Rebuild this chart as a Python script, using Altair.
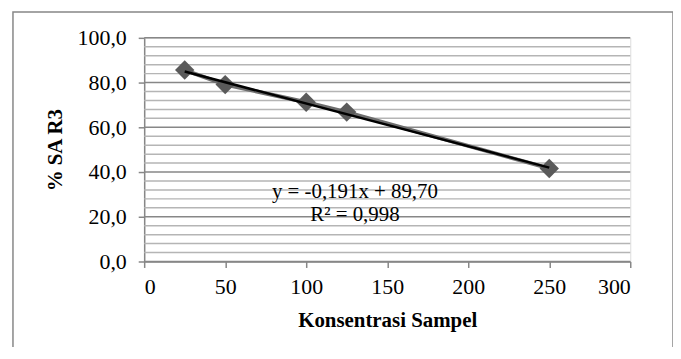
import altair as alt
import pandas as pd

konsentrasi = [25, 50, 100, 125, 250]
sa_r3 = [85.6, 79.1, 71.2, 66.8, 41.6]
slope = -0.191
intercept = 89.70
trend_x = [25, 250]
minor_grid = [4, 8, 12, 16, 24, 28, 32, 36, 44, 48, 52, 56, 64, 68, 72, 76, 84, 88, 92, 96]
major_grid = [0, 20, 40, 60, 80, 100]
eq_lines = ["y = -0,191x + 89,70", "R² = 0,998"]

FONT = "Liberation Serif"
W, H = 489, 225

df = pd.DataFrame({"x": konsentrasi, "y": sa_r3})
trend = pd.DataFrame({"x": trend_x, "y": [slope * v + intercept for v in trend_x]})
minor = pd.DataFrame({"g": minor_grid})
major = pd.DataFrame({"g": major_grid})

xs = alt.Scale(domain=[0, 300], nice=False)
ys = alt.Scale(domain=[0, 100], nice=False)

frame = alt.Chart(pd.DataFrame({"a": [0]})).mark_rect(
    fill=None, stroke="#878787", strokeWidth=1.5, clip=False
).encode(x=alt.value(-132), x2=alt.value(532), y=alt.value(-26), y2=alt.value(330))

minor_rules = alt.Chart(minor).mark_rule(color="#b5b5b5", strokeWidth=1.5).encode(
    y=alt.Y("g:Q", scale=ys)
)
major_rules = alt.Chart(major).mark_rule(color="#878787", strokeWidth=1.5).encode(
    y=alt.Y("g:Q", scale=ys)
)

base = alt.Chart(df).encode(
    x=alt.X(
        "x:Q",
        scale=xs,
        axis=alt.Axis(
            title="Konsentrasi Sampel",
            values=[0, 50, 100, 150, 200, 250, 300],
            grid=False,
            domainColor="#878787",
            domainWidth=1.5,
            tickColor="#878787",
            tickWidth=1.5,
            tickSize=6,
            labelFont=FONT,
            labelFontSize=22,
            labelColor="#000000",
            labelPadding=9,
            titleFont=FONT,
            titleFontSize=21,
            titleFontWeight="bold",
            titleColor="#000000",
            titlePadding=12,
        ),
    ),
    y=alt.Y(
        "y:Q",
        scale=ys,
        axis=alt.Axis(
            title="% SA R3",
            values=major_grid,
            labelExpr="replace(format(datum.value, '.1f'), '.', ',')",
            grid=False,
            domainColor="#878787",
            domainWidth=1.5,
            tickColor="#878787",
            tickWidth=1.5,
            tickSize=6,
            labelFont=FONT,
            labelFontSize=22,
            labelColor="#000000",
            labelPadding=12,
            titleFont=FONT,
            titleFontSize=21,
            titleFontWeight="bold",
            titleColor="#000000",
            titlePadding=12,
        ),
    ),
)

series_line = base.mark_line(color="#6e6e6e", strokeWidth=4)
points = base.mark_point(
    shape="diamond", filled=True, size=380, color="#5a5a5a", opacity=1
)
trend_line = alt.Chart(trend).mark_line(color="#000000", strokeWidth=2.5).encode(
    x=alt.X("x:Q", scale=xs), y=alt.Y("y:Q", scale=ys)
)

eq = alt.Chart(pd.DataFrame({"t": [eq_lines]})).mark_text(
    font=FONT, fontSize=21, color="#000000", align="center", baseline="alphabetic",
    lineHeight=23
).encode(x=alt.value(212), y=alt.value(161), text="t")

chart = alt.layer(
    frame, minor_rules, major_rules, series_line, points, trend_line, eq
).properties(
    width=W,
    height=H,
    autosize=alt.AutoSizeParams(type="none"),
    padding={"left": 137, "top": 29, "right": 43, "bottom": 85},
).configure_view(stroke=None).configure(background="white")

chart.save("out.html", embed_options={"renderer": "svg", "actions": False})
